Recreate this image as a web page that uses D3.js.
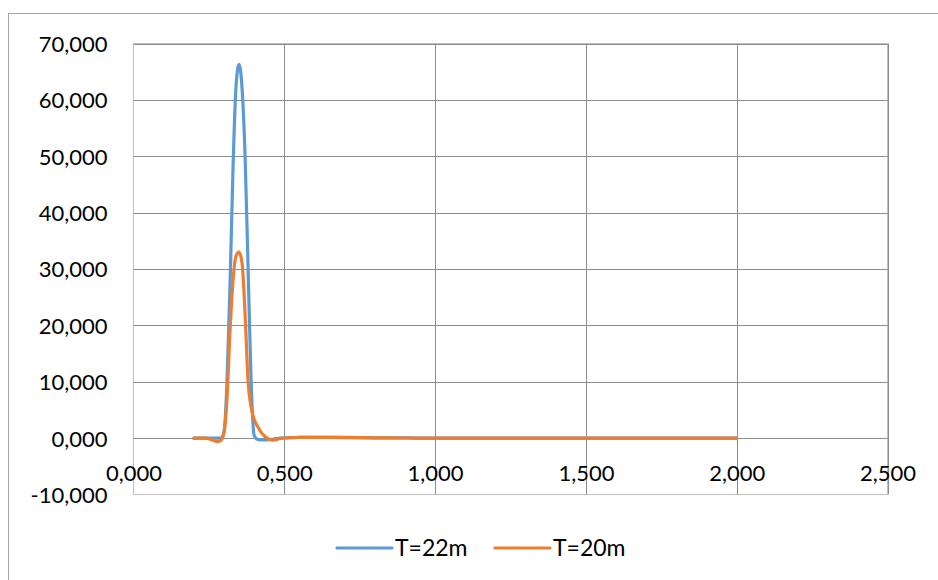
<!DOCTYPE html>
<html>
<head>
<meta charset="utf-8">
<script src="https://cdn.jsdelivr.net/npm/d3@7"></script>
<style>
  html, body { margin: 0; padding: 0; background: #fff; }
  svg { display: block; }
  text { font-family: Lato, "Open Sans", sans-serif; fill: #000; }
</style>
</head>
<body>
<svg id="chart" width="938" height="580"></svg>
<script>
// ---- data ----
const xValues = [0.20,0.21,0.22,0.23,0.24,0.25,0.26,0.27,0.28,0.29,
                 0.30,0.31,0.32,0.33,0.34,0.35,0.36,0.37,0.38,0.39,
                 0.40,0.41,0.42,0.43,0.44,0.45,0.46,0.47,0.48,0.50,
                 0.55,0.60,0.70,0.80,0.90,1.00,1.10,1.20,1.30,1.40,
                 1.50,1.60,1.70,1.80,1.90,2.00];
const seriesT22 = [0,0,0,0,0,0,0,0,0,0,
                   1,10,27,48,62.5,66.3,62,50,30,10,
                   0.5,-0.2,-0.3,-0.3,-0.3,-0.25,-0.2,-0.1,-0.05,0.05,
                   0.15,0.15,0.12,0.06,0.03,0,0,0,0,0,
                   0,0,0,0,0,0];
const seriesT20 = [0,0,0,0,0,-0.1,-0.3,-0.5,-0.6,-0.4,
                   1,7,19,28,32.3,33,31,22,10,5.5,
                   3.3,2.2,1.3,0.6,0.1,-0.2,-0.35,-0.3,-0.15,0.02,
                   0.12,0.15,0.1,0.04,0.02,0,0,0,0,0,
                   0,0,0,0,0,0];
const seriesNames = ["T=22m", "T=20m"];
const seriesColors = ["#5B9BD5", "#ED7D31"];
const xTicks = [0, 0.5, 1.0, 1.5, 2.0, 2.5];
const yTicks = [-10, 0, 10, 20, 30, 40, 50, 60, 70];

(function () {
// ---- layout ----
const svg = d3.select("#chart");
const pLeft = 133.5, pRight = 887.5, pTop = 43.5, pBottom = 494.5;

const x = d3.scaleLinear().domain([0, 2.5]).range([pLeft, pRight]);
const y = d3.scaleLinear().domain([-10, 70]).range([pBottom, pTop]);

const locale = d3.formatLocale({decimal: ",", thousands: ".", grouping: [3], currency: ["", ""], minus: "-"});
const fmt = locale.format(".3f");

// outer chart border
svg.append("rect")
  .attr("x", 8.5).attr("y", 13.5).attr("width", 940).attr("height", 600)
  .attr("fill", "none").attr("stroke", "#a6a6a6").attr("stroke-width", 1);

// plot area border (axis lines)
svg.append("rect")
  .attr("x", pLeft).attr("y", pTop).attr("width", pRight - pLeft).attr("height", pBottom - pTop)
  .attr("fill", "none").attr("stroke", "#bfbfbf").attr("stroke-width", 1);

// gridlines
const grid = svg.append("g").attr("stroke", "#8c8c8c").attr("stroke-width", 1);
grid.selectAll("line.h").data(yTicks.filter(v => v > -10)).join("line")
  .attr("class", "h")
  .attr("x1", pLeft).attr("x2", pRight)
  .attr("y1", d => Math.round(y(d)) + 0.5).attr("y2", d => Math.round(y(d)) + 0.5);
grid.selectAll("line.v").data(xTicks.filter(v => v > 0)).join("line")
  .attr("class", "v")
  .attr("y1", pTop).attr("y2", pBottom)
  .attr("x1", d => Math.round(x(d)) + 0.5).attr("x2", d => Math.round(x(d)) + 0.5);

// y axis labels
const yAxis = svg.append("g")
  .attr("transform", `translate(${pLeft},0)`)
  .call(d3.axisLeft(y).tickValues(yTicks).tickFormat(fmt).tickSize(0).tickPadding(26));
yAxis.select(".domain").remove();
yAxis.selectAll("text")
  .attr("dy", "0.36em")
  .style("font-size", "22px").style("font-family", "Lato, sans-serif").attr("fill", "#000");

// x axis labels (crossing at y=0)
const xAxis = svg.append("g")
  .attr("transform", `translate(0,${y(0)})`)
  .call(d3.axisBottom(x).tickValues(xTicks).tickFormat(fmt).tickSize(0).tickPadding(0));
xAxis.select(".domain").remove();
xAxis.selectAll("text")
  .attr("y", 43).attr("dy", 0)
  .style("font-size", "22px").style("font-family", "Lato, sans-serif").attr("fill", "#000");

// lines
const series = [seriesT22, seriesT20];
const line = d3.line()
  .x((d, i) => x(xValues[i]))
  .y(d => y(d))
  .curve(d3.curveMonotoneX);
series.forEach((s, k) => {
  svg.append("path")
    .datum(s)
    .attr("d", line)
    .attr("fill", "none")
    .attr("stroke", seriesColors[k])
    .attr("stroke-width", 3.2)
    .attr("stroke-linejoin", "round")
    .attr("stroke-linecap", "round");
});

// legend
const legendX = [337, 495];
const legendY = 548;
seriesNames.forEach((name, k) => {
  const g = svg.append("g");
  g.append("line")
    .attr("x1", legendX[k]).attr("x2", legendX[k] + 55)
    .attr("y1", legendY).attr("y2", legendY)
    .attr("stroke", seriesColors[k]).attr("stroke-width", 3.2).attr("stroke-linecap", "round");
  g.append("text")
    .attr("x", legendX[k] + 58).attr("y", legendY).attr("dy", "0.36em")
    .style("font-size", "23px")
    .text(name);
});
})();
</script>
</body>
</html>
